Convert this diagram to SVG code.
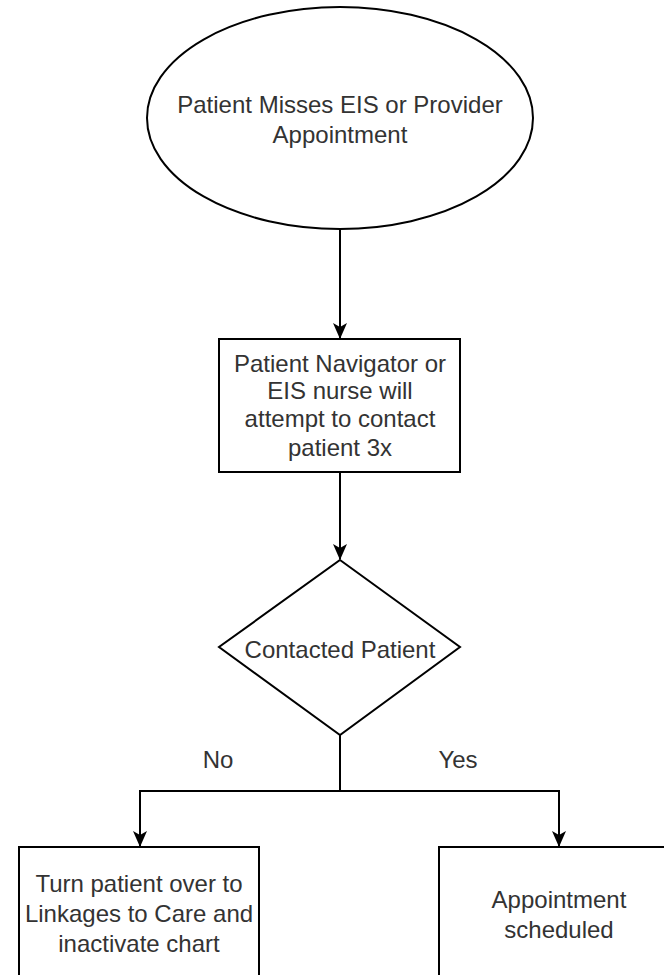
<svg xmlns="http://www.w3.org/2000/svg" width="664" height="975" viewBox="0 0 664 975">
<style>
  .shape{fill:#ffffff;stroke:#000000;stroke-width:2}
  .conn{fill:none;stroke:#000000;stroke-width:2}
  text{font-family:"Liberation Sans",Arial,sans-serif;font-size:24px;fill:#333333;text-anchor:middle}
</style>
<defs>
  <marker id="arrow" viewBox="0 0 16 14" refX="15" refY="7" markerWidth="16" markerHeight="14" markerUnits="userSpaceOnUse" orient="auto">
    <path d="M0,0 L16,7 L0,14 L4,7 Z" fill="#000000"/>
  </marker>
</defs>
<rect width="664" height="975" fill="#ffffff"/>
<g id="connectors">
  <path class="conn" d="M340,229 L340,338" marker-end="url(#arrow)"/>
  <path class="conn" d="M340,472 L340,559" marker-end="url(#arrow)"/>
  <path class="conn" d="M340,735 L340,791 L140,791 L140,846" marker-end="url(#arrow)"/>
  <path class="conn" d="M340,791 L559,791 L559,846" marker-end="url(#arrow)"/>
  <text x="218" y="768">No</text>
  <text x="458" y="768">Yes</text>
</g>
<g id="start">
  <ellipse class="shape" cx="340" cy="118" rx="193" ry="111"/>
  <text x="340" y="113">Patient Misses EIS or Provider</text>
  <text x="340" y="143">Appointment</text>
</g>
<g id="contact">
  <rect class="shape" x="219" y="339" width="241" height="133"/>
  <text x="340" y="372">Patient Navigator or</text>
  <text x="340" y="399">EIS nurse will</text>
  <text x="340" y="427">attempt to contact</text>
  <text x="340" y="456">patient 3x</text>
</g>
<g id="decision">
  <polygon class="shape" points="340,560 460,647 340,735 219,647"/>
  <text x="340" y="658">Contacted Patient</text>
</g>
<g id="no-box">
  <rect class="shape" x="19" y="847" width="240" height="140"/>
  <text x="139" y="892">Turn patient over to</text>
  <text x="139" y="922">Linkages to Care and</text>
  <text x="139" y="952">inactivate chart</text>
</g>
<g id="yes-box">
  <rect class="shape" x="439" y="847" width="240" height="140"/>
  <text x="559" y="908">Appointment</text>
  <text x="559" y="938">scheduled</text>
</g>
</svg>
